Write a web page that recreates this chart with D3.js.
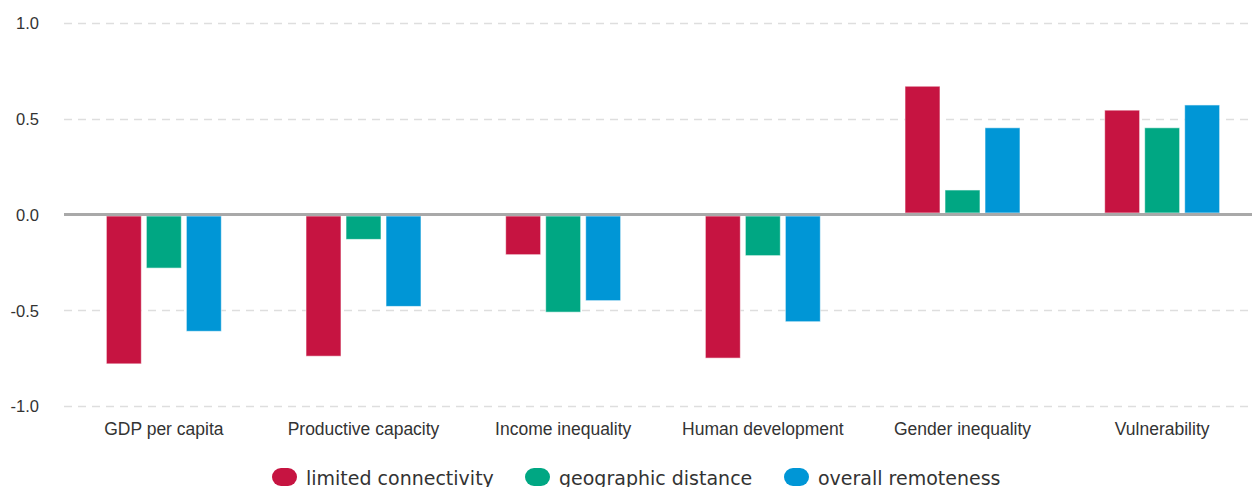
<!DOCTYPE html>
<html>
<head>
<meta charset="utf-8">
<script src="https://cdn.jsdelivr.net/npm/d3@7"></script>
<style>
  html, body { margin: 0; padding: 0; background: #fff; overflow: hidden; }
  svg { display: block; }
</style>
</head>
<body>
<svg id="chart" width="1252" height="487"></svg>
<script>
// Indicators (x categories)
const categories = ["GDP per capita", "Productive capacity", "Income inequality",
                    "Human development", "Gender inequality", "Vulnerability"];

// Series names
const seriesNames = ["limited connectivity", "geographic distance", "overall remoteness"];

// Values per series, in category order
const limitedConnectivity = [-0.78, -0.74, -0.21, -0.75, 0.67, 0.545];
const geographicDistance  = [-0.28, -0.13, -0.51, -0.215, 0.128, 0.453];
const overallRemoteness   = [-0.61, -0.48, -0.45, -0.56, 0.453, 0.572];

const seriesColors = ["#c61441", "#00a783", "#0096d6"];

// Y-axis ticks
const yTicks = [-1.0, -0.5, 0.0, 0.5, 1.0];

const seriesValues = [limitedConnectivity, geographicDistance, overallRemoteness];

const svg = d3.select("#chart");

const plotLeft = 64, plotRight = 1262;
const x = d3.scaleBand().domain(categories).range([plotLeft, plotRight]).paddingInner(0).paddingOuter(0);
const y = d3.scaleLinear().domain([-1, 1]).range([406, 23]);

const barW = 35, barGap = 5;
const sub = d3.scaleBand().domain(seriesNames).range([0, seriesNames.length * (barW + barGap)]);

// gridlines
svg.append("g")
  .selectAll("line")
  .data(yTicks.filter(t => t !== 0))
  .join("line")
  .attr("x1", plotLeft).attr("x2", 1252)
  .attr("y1", d => Math.round(y(d)) + 0.5).attr("y2", d => Math.round(y(d)) + 0.5)
  .attr("stroke", "#dedede")
  .attr("stroke-width", 1.5)
  .attr("stroke-dasharray", "8,6");

// y axis labels (plain hyphen for negatives)
const fmt = d3.format(".1f");
const yAxis = d3.axisLeft(y).tickValues(yTicks)
  .tickFormat(d => fmt(d).replace("\u2212", "-"))
  .tickSize(0).tickPadding(0);
const gy = svg.append("g").attr("transform", "translate(39,0)").call(yAxis);
gy.select(".domain").remove();
gy.selectAll("text")
  .attr("font-family", "Liberation Sans, Arial, sans-serif")
  .attr("font-size", 16.5)
  .attr("fill", "#333")
  .attr("dy", "0.36em");

// bars
const groups = svg.append("g")
  .selectAll("g")
  .data(categories)
  .join("g")
  .attr("transform", d => `translate(${x(d) + x.bandwidth() / 2 - (sub.range()[1] - barGap) / 2},0)`);

groups.selectAll("rect")
  .data((c, ci) => seriesNames.map((s, si) => ({ s, si, v: seriesValues[si][ci] })))
  .join("rect")
  .attr("x", d => sub(d.s))
  .attr("width", barW)
  .attr("y", d => d.v >= 0 ? y(d.v) : y(0) + 1.5)
  .attr("height", d => d.v >= 0 ? y(0) - 1.5 - y(d.v) : y(d.v) - y(0) - 1.5)
  .attr("fill", d => seriesColors[d.si])
  .attr("stroke", "#ffffff")
  .attr("stroke-opacity", 0.6)
  .attr("stroke-width", 1);

// zero line
svg.append("line")
  .attr("x1", plotLeft).attr("x2", 1252)
  .attr("y1", y(0)).attr("y2", y(0))
  .attr("stroke", "#a9a9a9")
  .attr("stroke-width", 3);

// x axis labels
const xAxis = d3.axisBottom(x).tickSize(0).tickPadding(0);
const gx = svg.append("g").attr("transform", "translate(0,435)").call(xAxis);
gx.select(".domain").remove();
gx.selectAll("text")
  .attr("font-family", "Liberation Sans, Arial, sans-serif")
  .attr("font-size", 17.5)
  .attr("fill", "#333")
  .attr("dy", 0);

// legend
const legendX = [272, 525, 784];
const legend = svg.append("g")
  .selectAll("g")
  .data(seriesNames)
  .join("g")
  .attr("transform", (d, i) => `translate(${legendX[i]},468)`);

legend.append("rect")
  .attr("width", 25).attr("height", 18)
  .attr("rx", 9).attr("ry", 9)
  .attr("fill", (d, i) => seriesColors[i]);

legend.append("text")
  .attr("x", 34).attr("y", 16.5)
  .attr("font-family", "DejaVu Sans, Verdana, sans-serif")
  .attr("font-size", 19)
  .attr("fill", "#333")
  .text(d => d);
</script>
</body>
</html>
